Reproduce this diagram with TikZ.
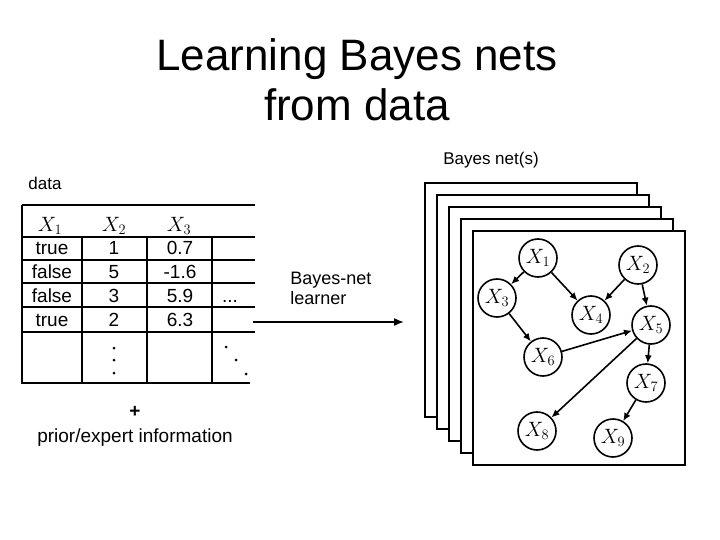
\documentclass[tikz,border=0pt]{standalone}
\usepackage{fontspec}
\setmainfont{Liberation Sans}
\usetikzlibrary{arrows.meta}
\begin{document}
\begin{tikzpicture}[x=1pt,y=-1pt,line width=2pt,
  sheet/.style={draw,fill=white},
  bn/.style={circle,draw,line width=1.6pt,minimum size=38pt,inner sep=0pt,font=\fontsize{20}{20}\selectfont},
  arr/.style={-{Latex[length=8pt,width=7pt]},line width=1.6pt},
  cell/.style={font=\fontsize{19}{19}\selectfont,text height=13pt,text depth=1pt,inner sep=0pt},
  hd/.style={font=\fontsize{20}{20}\selectfont}]
\useasboundingbox (0,0) rectangle (720,540);
\node[font=\fontsize{44}{50}\selectfont,align=center] (title) at (357,80) {Learning Bayes nets\\from data};
\node[font=\fontsize{17}{17}\selectfont] (bnlbl) at (491,160) {Bayes net(s)};
\node[font=\fontsize{17}{17}\selectfont] (datalbl) at (45,183) {data};
% table
\draw (22,205) -- (255,205);
\draw (22,205) -- (22,383) -- (250,383);
\foreach \y in {237,260,283,307,332} \draw (22,\y) -- (255,\y);
\foreach \x in {82,147,212} \draw (\x,237) -- (\x,383);
\node[hd] (h1) at (50,226) {$X_1$};
\node[hd] (h2) at (114,226) {$X_2$};
\node[hd] (h3) at (179,226) {$X_3$};
\foreach \a/\b/\c [count=\i] in {true/1/0.7,false/5/-1.6,false/3/5.9,true/2/6.3}{
  \pgfmathsetmacro\yy{237+23.8*\i-11.9}
  \node[cell] at (52,\yy) {\a};
  \node[cell] at (114,\yy) {\b};
  \node[cell] at (180,\yy) {\c};
}
\node[cell] (hd) at (230,296) {...};
\foreach \y in {348,360,373} \fill (114,\y) circle (1.5pt);
\fill (226,347) circle (1.5pt); \fill (236,360) circle (1.5pt); \fill (246,374) circle (1.5pt);
\node[font=\fontsize{19}{19}\selectfont\bfseries] (plus) at (135,412) {+};
\node[font=\fontsize{19}{19}\selectfont] (prior) at (135,438) {prior/expert information};
\node[font=\fontsize{18}{20}\selectfont,align=left,anchor=west] (learner) at (286,288) {Bayes-net\\learner};
\coordinate (as) at (253,322); \coordinate (ae) at (404,322);
\draw[-{Latex[length=10pt,width=8pt]},line width=1.6pt] (as) -- (ae);
% sheets
\foreach \k in {0,1,2,3,4}{
  \draw[sheet] (425+12*\k,183+12*\k) rectangle (637+12*\k,417+12*\k);
}
\node[bn] (x1) at (538,258) {$X_1$};
\node[bn] (x2) at (638,265) {$X_2$};
\node[bn] (x3) at (497,298) {$X_3$};
\node[bn] (x4) at (591,315) {$X_4$};
\node[bn] (x5) at (651,325) {$X_5$};
\node[bn] (x6) at (543,357) {$X_6$};
\node[bn] (x7) at (646,383) {$X_7$};
\node[bn] (x8) at (537,431) {$X_8$};
\node[bn] (x9) at (613,438) {$X_9$};
\draw[arr] (x1) -- (x3);
\draw[arr] (x1) -- (x4);
\draw[arr] (x2) -- (x4);
\draw[arr] (x2) -- (x5);
\draw[arr] (x3) -- (x6);
\draw[arr] (x6) -- (x5);
\draw[arr] (x5) -- (x7);
\draw[arr] (x5) -- (x8);
\draw[arr] (x7) -- (x9);
\end{tikzpicture}
\end{document}
